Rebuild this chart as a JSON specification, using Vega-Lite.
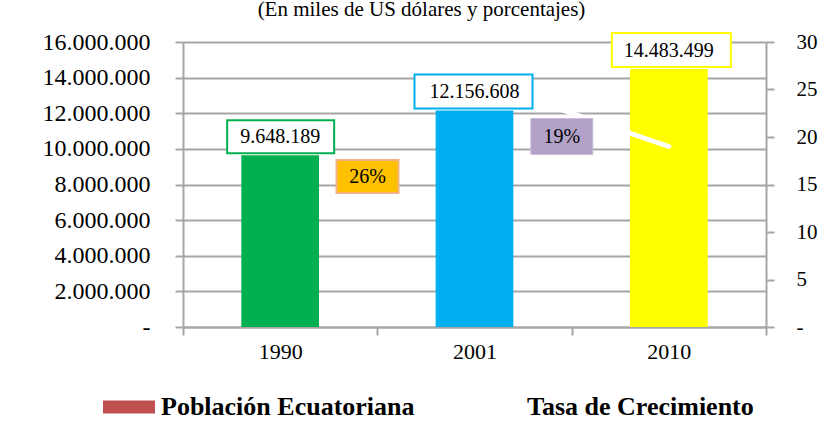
{
  "$schema": "https://vega.github.io/schema/vega-lite/v6.json",
  "autosize": {"type": "none"},
  "padding": {"left": 183, "top": 42, "right": 66, "bottom": 113},
  "width": 583,
  "height": 285,
  "background": "white",
  "title": {
    "text": "(En miles de US dólares y porcentajes)",
    "font": "Liberation Serif",
    "fontSize": 21,
    "fontWeight": "normal",
    "color": "black",
    "anchor": "middle",
    "frame": "group",
    "dx": -53,
    "baseline": "alphabetic",
    "offset": -8
  },
  "config": {
    "view": {"stroke": null},
    "font": "Liberation Serif",
    "locale": {"number": {"decimal": ",", "thousands": ".", "grouping": [3], "currency": ["", "%"]}},
    "axis": {
      "labelFont": "Liberation Serif",
      "labelFontSize": 22,
      "labelColor": "black",
      "domainColor": "#A6A6A6",
      "domainWidth": 2,
      "tickColor": "#A6A6A6",
      "tickWidth": 2,
      "tickSize": 8,
      "gridColor": "#A6A6A6",
      "gridWidth": 2,
      "title": null
    }
  },
  "data": {
    "values": [
      {"year": "1990", "poblacion": 9648189, "tasa": null},
      {"year": "2001", "poblacion": 12156608, "tasa": 26},
      {"year": "2010", "poblacion": 14483499, "tasa": 19}
    ]
  },
  "encoding": {
    "x": {
      "field": "year",
      "type": "nominal",
      "scale": {"paddingInner": 0, "paddingOuter": 0},
      "axis": {"labelAngle": 0, "tickBand": "extent", "labelPadding": 6, "grid": false}
    }
  },
  "layer": [
    {
      "encoding": {
        "y": {
          "field": "poblacion",
          "type": "quantitative",
          "scale": {"domain": [0, 16000000], "nice": false},
          "axis": {
            "orient": "left",
            "values": [0, 2000000, 4000000, 6000000, 8000000, 10000000, 12000000, 14000000, 16000000],
            "labelExpr": "datum.value == 0 ? '-' : format(datum.value, ',')",
            "labelFontSize": 24,
            "labelPadding": 25,
            "grid": true
          }
        }
      },
      "layer": [
        {
          "mark": {"type": "bar", "width": {"band": 0.4}},
          "encoding": {
            "fill": {
              "field": "year",
              "type": "nominal",
              "scale": {"domain": ["1990", "2001", "2010"], "range": ["#00B050", "#00B0F0", "#FFFF00"]},
              "legend": null
            }
          }
        }
      ]
    },
    {
      "encoding": {
        "y": {
          "field": "tasa",
          "type": "quantitative",
          "scale": {"domain": [0, 30], "nice": false},
          "axis": {
            "orient": "right",
            "values": [0, 5, 10, 15, 20, 25, 30],
            "labelExpr": "datum.value == 0 ? '-' : datum.label",
            "labelFontSize": 21,
            "labelPadding": 22,
            "grid": false
          }
        }
      },
      "layer": [
        {
          "mark": {"type": "line", "strokeWidth": 5, "strokeCap": "round"},
          "encoding": {
            "color": {
              "datum": "Tasa de Crecimiento",
              "type": "nominal",
              "scale": {"domain": ["Población Ecuatoriana", "Tasa de Crecimiento"], "range": ["#C0504D", "#FFFFFF"]},
              "legend": {
                "orient": "none",
                "legendX": -80,
                "legendY": 339,
                "direction": "horizontal",
                "title": null,
                "padding": 0,
                "symbolType": "M-1,-0.25H1V0.25H-1Z",
                "symbolSize": 2704,
                "symbolStrokeWidth": 0,
                "labelFont": "Liberation Serif",
                "labelFontSize": 26,
                "labelFontWeight": "bold",
                "labelColor": "black",
                "labelLimit": 400,
                "labelOffset": 6,
                "columnPadding": 54,
                "encode": {
                  "symbols": {
                    "update": {
                      "fill": {"scale": "color", "field": "value"},
                      "stroke": {"value": "transparent"},
                      "strokeWidth": {"value": 0}
                    }
                  }
                }
              }
            }
          }
        },
        {
          "transform": [{"filter": "datum.year == '2001'"}],
          "mark": {"type": "point", "filled": true, "fill": "#FFC000", "stroke": "#F4B183", "strokeWidth": 2, "size": 4, "opacity": 1, "shape": "M-138,80H-76V113H-138Z"}
        },
        {
          "transform": [{"filter": "datum.year == '2001'"}],
          "mark": {"type": "text", "font": "Liberation Serif", "fontSize": 20, "color": "black", "baseline": "middle", "dx": -107, "dy": 97},
          "encoding": {"text": {"field": "tasa", "type": "quantitative", "format": "$d"}}
        },
        {
          "transform": [{"filter": "datum.year == '2010'"}],
          "mark": {"type": "point", "filled": true, "fill": "#B2A2C7", "stroke": "#C9BDDA", "strokeWidth": 1, "size": 4, "opacity": 1, "shape": "M-138,-28H-76V8H-138Z"}
        },
        {
          "transform": [{"filter": "datum.year == '2010'"}],
          "mark": {"type": "text", "font": "Liberation Serif", "fontSize": 20, "color": "black", "baseline": "middle", "dx": -107, "dy": -10},
          "encoding": {"text": {"field": "tasa", "type": "quantitative", "format": "$d"}}
        }
      ]
    },
    {
      "encoding": {
        "y": {
          "field": "poblacion",
          "type": "quantitative",
          "scale": {"domain": [0, 16000000], "nice": false},
          "axis": null
        }
      },
      "layer": [
        {
          "mark": {"type": "point", "filled": true, "fill": "white", "strokeWidth": 2, "size": 4, "opacity": 1},
          "encoding": {
            "shape": {
              "field": "year",
              "type": "nominal",
              "scale": {"domain": ["1990", "2001", "2010"], "range": ["M-53,-35H54V-2H-53Z", "M-60,-36H58V-2H-60Z", "M-57,-36H62V-2H-57Z"]},
              "legend": null
            },
            "stroke": {
              "field": "year",
              "type": "nominal",
              "scale": {"domain": ["1990", "2001", "2010"], "range": ["#00B050", "#00B0F0", "#FFFF00"]},
              "legend": null
            }
          }
        },
        {
          "mark": {"type": "text", "font": "Liberation Serif", "fontSize": 20, "color": "black", "baseline": "middle", "dy": -18},
          "encoding": {"text": {"field": "poblacion", "type": "quantitative", "format": ","}}
        }
      ]
    }
  ],
  "resolve": {"scale": {"y": "independent"}}
}
